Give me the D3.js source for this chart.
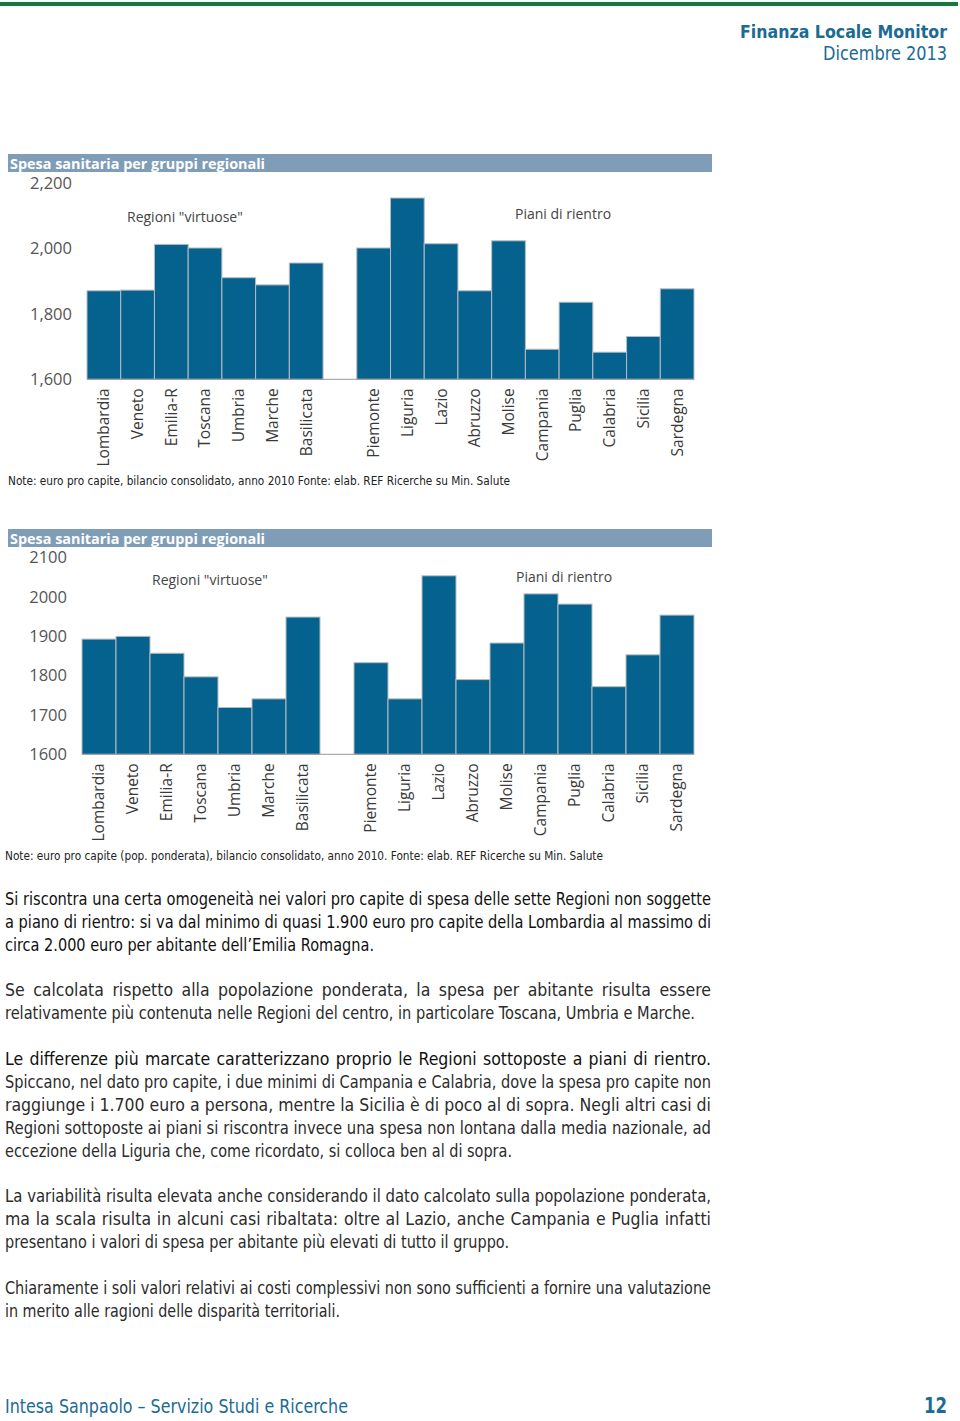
<!DOCTYPE html>
<html><head><meta charset="utf-8">
<script src="https://cdn.jsdelivr.net/npm/d3@7"></script>
<style>
html,body{margin:0;padding:0;background:#fff;}
svg{display:block;}
</style></head>
<body>
<svg id="page" width="960" height="1421"></svg>
<script>
// ---------- DATA ----------
const regioniVirtuose = ["Lombardia","Veneto","Emilia-R","Toscana","Umbria","Marche","Basilicata"];
const regioniPiani = ["Piemonte","Liguria","Lazio","Abruzzo","Molise","Campania","Puglia","Calabria","Sicilia","Sardegna"];
// euro pro capite, 2010
const spesaProCapite = [1871,1873,2013,2002,1911,1889,1956, 2002,2155,2015,1871,2024,1692,1836,1683,1731,1877];
// euro pro capite, popolazione ponderata, 2010
const spesaPonderata = [1893,1900,1857,1797,1719,1741,1949, 1833,1741,2054,1790,1883,2008,1982,1772,1853,1954];
const ticks1 = [1600,1800,2000,2200];
const ticks2 = [1600,1700,1800,1900,2000,2100];

const titolo = "Spesa sanitaria per gruppi regionali";
const nota1 = "Note: euro pro capite, bilancio consolidato, anno 2010 Fonte: elab. REF Ricerche su Min. Salute";
const nota2 = "Note: euro pro capite (pop. ponderata), bilancio consolidato, anno 2010. Fonte: elab. REF Ricerche su Min. Salute";

// paragraphs: [text, 1 = justified | right edge of last line]
const paragrafi = [
 [["Si riscontra una certa omogeneità nei valori pro capite di spesa delle sette Regioni non soggette",1],
  ["a piano di rientro: si va dal minimo di quasi 1.900 euro pro capite della Lombardia al massimo di",1],
  ["circa 2.000 euro per abitante dell’Emilia Romagna.",374]],
 [["Se calcolata rispetto alla popolazione ponderata, la spesa per abitante risulta essere",1],
  ["relativamente più contenuta nelle Regioni del centro, in particolare Toscana, Umbria e Marche.",695]],
 [["Le differenze più marcate caratterizzano proprio le Regioni sottoposte a piani di rientro.",1],
  ["Spiccano, nel dato pro capite, i due minimi di Campania e Calabria, dove la spesa pro capite non",1],
  ["raggiunge i 1.700 euro a persona, mentre la Sicilia è di poco al di sopra. Negli altri casi di",1],
  ["Regioni sottoposte ai piani si riscontra invece una spesa non lontana dalla media nazionale, ad",1],
  ["eccezione della Liguria che, come ricordato, si colloca ben al di sopra.",512]],
 [["La variabilità risulta elevata anche considerando il dato calcolato sulla popolazione ponderata,",1],
  ["ma la scala risulta in alcuni casi ribaltata: oltre al Lazio, anche Campania e Puglia infatti",1],
  ["presentano i valori di spesa per abitante più elevati di tutto il gruppo.",509]],
 [["Chiaramente i soli valori relativi ai costi complessivi non sono sufficienti a fornire una valutazione",1],
  ["in merito alle ragioni delle disparità territoriali.",340]]
];
const paraTop = [905, 996, 1065, 1202, 1294];

// ---------- DRAWING ----------
const svg = d3.select("#page");
const NARROW = "'Liberation Sans Narrow','DejaVu Sans Condensed','Roboto Condensed',Roboto,sans-serif";
const CHART = "'Open Sans','Noto Sans',sans-serif";
const TEAL = "#1b6b93";
const BAR = "#05628f";

function fit(sel, w){ sel.attr("textLength", w).attr("lengthAdjust","spacingAndGlyphs"); return sel; }

// top green rule
svg.append("rect").attr("x",0).attr("y",2).attr("width",958).attr("height",4).attr("fill","#137a3d");

// header (right aligned)
fit(svg.append("text").attr("x",947).attr("y",38).attr("text-anchor","end").attr("font-family",NARROW).attr("font-size",18)
  .attr("font-weight","bold").attr("fill",TEAL).text("Finanza Locale Monitor"), 207);
fit(svg.append("text").attr("x",947).attr("y",60).attr("text-anchor","end").attr("font-family",NARROW).attr("font-size",19)
  .attr("fill",TEAL).text("Dicembre 2013"), 124);

function drawChart(cfg){
  const g = svg.append("g");
  // title bar
  g.append("rect").attr("x",8).attr("y",cfg.titleY).attr("width",704).attr("height",18).attr("fill","#7f9db6");
  fit(g.append("text").attr("x",10).attr("y",cfg.titleY+14.5).attr("font-family",CHART).attr("font-size",14.5)
    .attr("font-weight","bold").attr("fill","#fff").text(titolo), 255);

  const domain = [...regioniVirtuose, "__gap", ...regioniPiani];
  const values = new Map();
  regioniVirtuose.forEach((r,i)=>values.set(r,cfg.values[i]));
  regioniPiani.forEach((r,i)=>values.set(r,cfg.values[i+regioniVirtuose.length]));

  const x = d3.scaleBand().domain(domain).range(cfg.xRange).padding(0);
  const y = d3.scaleLinear().domain(cfg.yDomain).range(cfg.yRange);

  // bars
  const cats = [...regioniVirtuose, ...regioniPiani];
  g.selectAll("rect.bar").data(cats).join("rect").attr("class","bar")
    .attr("x", d=>x(d)).attr("width", x.bandwidth())
    .attr("y", d=>y(values.get(d))).attr("height", d=>y(cfg.yDomain[0]) - y(values.get(d)))
    .attr("fill", BAR).attr("stroke","#b8bcc0").attr("stroke-width",1);

  // baseline
  g.append("line").attr("x1",cfg.xRange[0]).attr("x2",cfg.xRange[1])
    .attr("y1",y(cfg.yDomain[0])).attr("y2",y(cfg.yDomain[0])).attr("stroke","#999").attr("stroke-width",1);

  // y axis
  const ax = g.append("g").attr("transform",`translate(${cfg.axisX},0)`)
    .call(d3.axisLeft(y).tickValues(cfg.ticks).tickFormat(cfg.fmt).tickSize(0).tickPadding(0));
  ax.select(".domain").remove();
  ax.selectAll("text").attr("font-family",CHART).attr("font-size",16.5).attr("fill","#555");

  // category labels
  const xa = g.append("g").attr("transform",`translate(0,${y(cfg.yDomain[0])})`)
    .call(d3.axisBottom(x).tickValues(cats).tickSize(0).tickPadding(0));
  xa.select(".domain").remove();
  xa.selectAll("text").attr("font-family",CHART).attr("font-size",15.5).attr("fill","#3a3a3a")
    .attr("text-anchor","end").attr("dy","0.35em")
    .attr("transform","translate(0,9) rotate(-90)").attr("x",0).attr("y",0);

  // group annotations
  g.append("text").attr("x",cfg.annV[0]).attr("y",cfg.annV[1]).attr("font-family",CHART).attr("font-size",14)
    .attr("fill","#444").text("Regioni \"virtuose\"");
  g.append("text").attr("x",cfg.annP[0]).attr("y",cfg.annP[1]).attr("font-family",CHART).attr("font-size",14)
    .attr("fill","#444").text("Piani di rientro");

  // note
  fit(g.append("text").attr("x",cfg.note[0]).attr("y",cfg.note[1]).attr("font-family",NARROW).attr("font-size",13)
    .attr("fill","#222").text(cfg.noteText), cfg.note[2]);
}

drawChart({titleY:154, values:spesaProCapite, xRange:[87,694], yDomain:[1600,2200], yRange:[379.3,183.3],
  ticks:ticks1, fmt:d3.format(","), axisX:72, annV:[127,222], annP:[515,219],
  note:[8,485,502], noteText:nota1});
drawChart({titleY:529, values:spesaPonderata, xRange:[82,694], yDomain:[1600,2100], yRange:[754.3,557.7],
  ticks:ticks2, fmt:d3.format("d"), axisX:67, annV:[152,585], annP:[516,582],
  note:[5,860,598], noteText:nota2});

// body text
const LH = 23;
paragrafi.forEach((p,pi)=>{
  p.forEach((ln,li)=>{
    const dark = (pi===0) || (pi===2 && li===0);
    const t = svg.append("text").attr("x",5).attr("y",paraTop[pi]+li*LH)
      .attr("font-family",NARROW).attr("font-size",17.5).attr("fill", dark ? "#111" : "#2b2b2b")
      .attr("xml:space","preserve").text(ln[0]);
    const target = ln[1]===1 ? 706 : ln[1]-5;
    const w = t.node().getComputedTextLength();
    const spaces = (ln[0].match(/ /g)||[]).length;
    if (ln[1]===1 && w < target && spaces>0) {
      t.attr("word-spacing", ((target - w)/spaces).toFixed(2));
      const w2 = t.node().getComputedTextLength();
      if (Math.abs(w2-target)>2) fit(t, target);
    } else {
      fit(t, target);
    }
  });
});

// footer
fit(svg.append("text").attr("x",5).attr("y",1413).attr("font-family",NARROW).attr("font-size",20)
  .attr("fill",TEAL).text("Intesa Sanpaolo – Servizio Studi e Ricerche"), 343);
fit(svg.append("text").attr("x",947).attr("y",1413).attr("text-anchor","end").attr("font-family",NARROW).attr("font-size",22)
  .attr("font-weight","bold").attr("fill",TEAL).text("12"), 23);
</script>
</body></html>
